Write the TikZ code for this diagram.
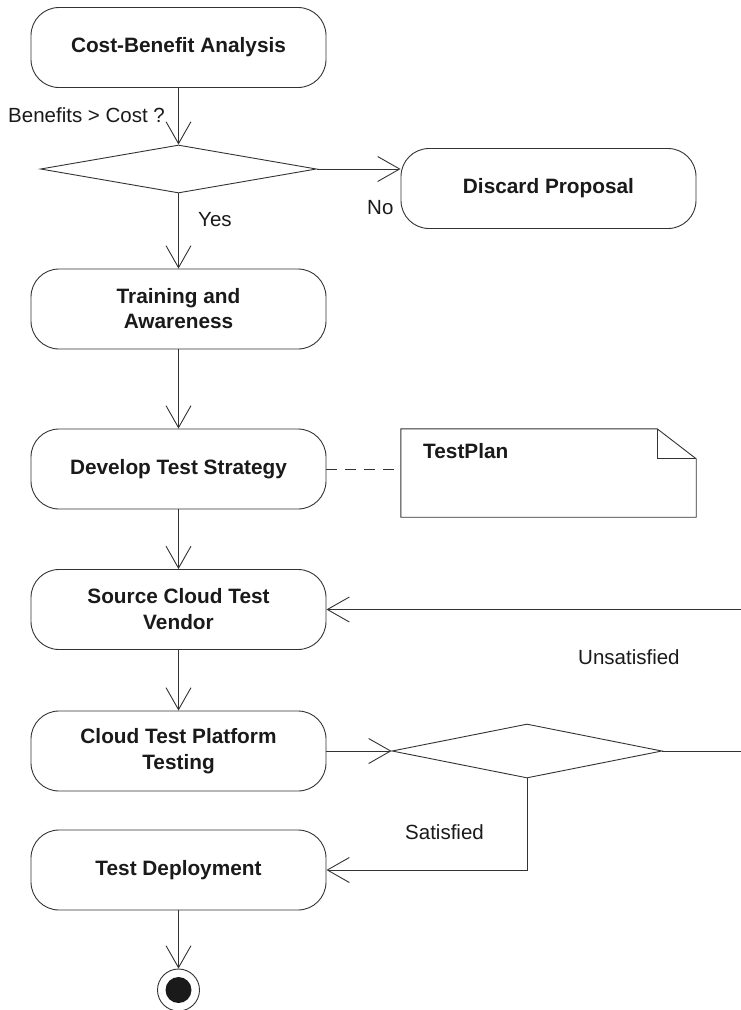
\documentclass[tikz,border=0pt]{standalone}
\usepackage{fontspec}
\setmainfont{Liberation Sans}
\usetikzlibrary{arrows.meta,shapes.geometric,calc}
\definecolor{ln}{HTML}{333333}
\definecolor{tx}{HTML}{1A1A1A}
\begin{document}
\begin{tikzpicture}[x=1pt,y=-1pt,
  act/.style={draw=ln, line width=0.9pt, rounded corners=28pt, minimum width=295pt, minimum height=80pt, inner sep=0pt, align=center, text=tx, font=\fontsize{20.8}{25}\selectfont\bfseries},
  dec/.style={draw=ln, line width=0.9pt, diamond, inner sep=0pt},
  flow/.style={draw=ln, line width=0.9pt, -{Straight Barb[length=22pt,width=25pt,line width=0.9pt]}},
  lbl/.style={text=tx, inner sep=0pt, font=\fontsize{20.5}{24}\selectfont},
]
\useasboundingbox (0,0) rectangle (741,1010);
\fill[white] (0,0) rectangle (741,1010);

\node[act] (cba) at (178.5,47.5) {Cost-Benefit Analysis};
\node[dec, minimum width=276pt, minimum height=48pt] (d1) at (178.5,169) {};
\node[act] (disc) at (548.5,188.5) {Discard Proposal};
\node[act] (train) at (178.5,309) {Training and\\Awareness};
\node[act] (dev) at (178.5,469) {Develop Test Strategy};
\node[act, font=\fontsize{20.8}{26}\selectfont\bfseries] (src) at (178.5,609.5) {Source Cloud Test\\Vendor};
\node[act, font=\fontsize{20.8}{26}\selectfont\bfseries] (cloud) at (178.5,751) {Cloud Test Platform\\Testing};
\node[dec, minimum width=270pt, minimum height=54pt] (d2) at (527,751) {};
\node[act] (dep) at (178.5,870) {Test Deployment};

% note
\node[minimum width=295pt, minimum height=88pt, inner sep=0pt] (note) at (548.5,473) {};
\draw[ln, line width=0.9pt] (note.south west) -- (note.north west) -- ([xshift=-39pt]note.north east) -- ([yshift=-30pt]note.north east) -- (note.south east) -- cycle;
\draw[ln, line width=0.9pt] ([xshift=-39pt]note.north east) -- ([xshift=-39pt,yshift=-30pt]note.north east) -- ([yshift=-30pt]note.north east);
\node[lbl, font=\fontsize{20.8}{24}\selectfont\bfseries, anchor=west] (tp) at (423,451) {TestPlan};
\draw[ln, line width=0.9pt, dash pattern=on 11pt off 8pt] (dev.east) -- (dev.east -| note.west);

% final node
\node[circle, draw=ln, line width=0.9pt, minimum size=42pt, inner sep=0pt] (fin) at (178.5,990) {};
\node[circle, fill=tx, minimum size=26pt, inner sep=0pt] (fin2) at (fin.center) {};

% flows
\draw[flow] (cba) -- (d1.north);
\draw[flow] (d1.south) -- (train.north);
\draw[flow] (d1.east) -- (d1.east -| disc.west);
\draw[flow] (train) -- (dev);
\draw[flow] (dev) -- (src);
\draw[flow] (src) -- (cloud);
\draw[flow] (cloud.east) -- (d2.west);
\coordinate (r1) at (745,751);
\coordinate (r2) at (745,609.5);
\draw[flow] (d2.east) -- (r1) -- (r2) -- (src.east);
\draw[flow] (d2.south) |- (dep.east);
\draw[flow] (dep) -- (fin);

% labels
\node[lbl, anchor=west] (l1) at (8,115) {Benefits > Cost ?};
\node[lbl, anchor=west] (l2) at (198,220) {Yes};
\node[lbl, anchor=west] (l3) at (367,208) {No};
\node[lbl, anchor=west] (l4) at (578,657) {Unsatisfied};
\node[lbl, anchor=west] (l5) at (405,832) {Satisfied};
\end{tikzpicture}
\end{document}
